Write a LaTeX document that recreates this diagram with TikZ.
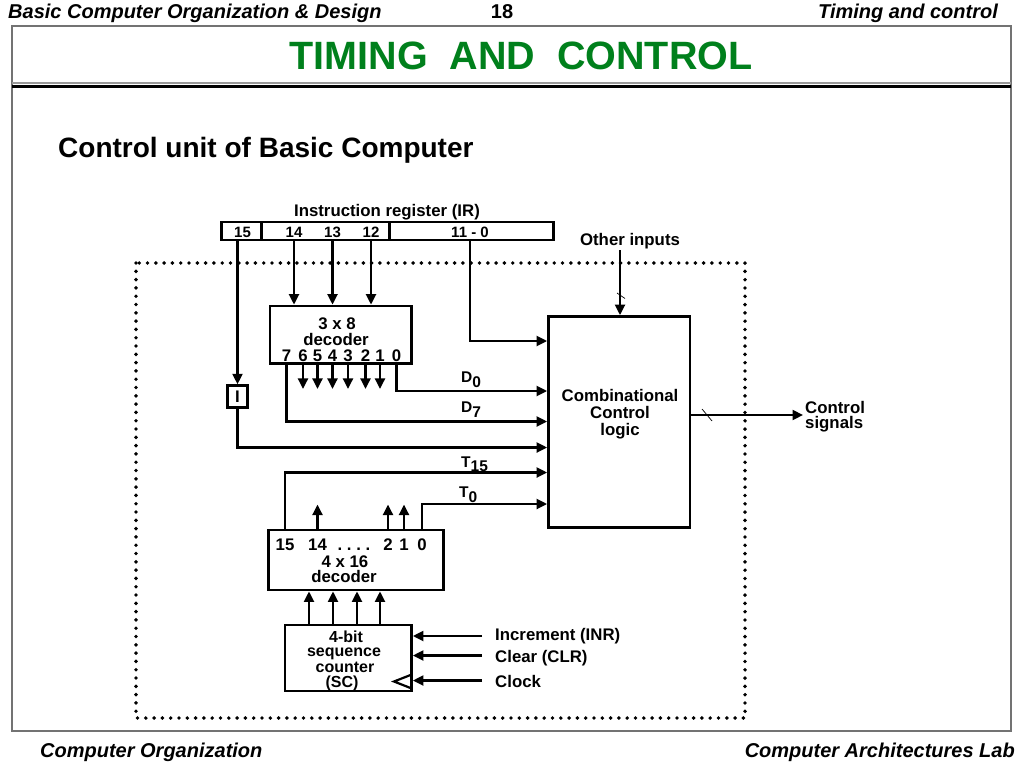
\documentclass[tikz,border=0pt]{standalone}
\usepackage{fontspec}
\setmainfont{Liberation Sans}
\usetikzlibrary{arrows.meta}
\definecolor{titlegreen}{RGB}{0,128,28}
\begin{document}
\begin{tikzpicture}[x=1pt,y=-1pt,
  lbl/.style={font=\fontsize{16.8}{17}\selectfont\bfseries, inner sep=0pt, anchor=base},
  sclbl/.style={font=\fontsize{16}{16}\selectfont\bfseries, inner sep=0pt, anchor=base},
  sml/.style={font=\fontsize{15}{15}\selectfont\bfseries, inner sep=0pt, anchor=base},
  sig/.style={font=\fontsize{15.5}{15}\selectfont\bfseries, inner sep=0pt, anchor=base west},
  hdr/.style={font=\fontsize{20}{22}\selectfont\bfseries\itshape, inner sep=0pt},
  blk/.style={draw, line width=2.8pt, inner sep=0pt},
  wire/.style={line width=2.2pt},
  arr/.style={wire, -{Triangle[length=10.5pt,width=10pt]}},
  slash/.style={line width=0.7pt},
  dotbox/.style={line width=3.9pt, dash pattern=on 0pt off 8.3pt, line cap=round},
]
\useasboundingbox (0,0) rectangle (1024,768);
\fill[white] (0,0) rectangle (1024,768);

% slide frame
\draw[black!55, line width=1.3pt] (12,26) rectangle (1011,731);
\draw[black!40, line width=2pt] (12,83) -- (1011,83);
\draw[line width=3.3pt] (12,86.5) -- (1011,86.5);

% header / footer
\node[hdr, anchor=base west] (hleft) at (8,19) {Basic Computer Organization \& Design};
\node[hdr, anchor=base, font=\fontsize{20}{22}\selectfont\bfseries] (hnum) at (502,19) {18};
\node[hdr, anchor=base east] (hright) at (998,19) {Timing and control};
\node[inner sep=0pt, anchor=base, text=titlegreen, font=\fontsize{39.5}{40}\selectfont\bfseries] (title) at (521,70) {TIMING\ \ AND\ \ CONTROL};
\node[inner sep=0pt, anchor=base west, font=\fontsize{28}{30}\selectfont\bfseries] (sub) at (58,157) {Control unit of Basic Computer};
\node[hdr, anchor=base west] (fleft) at (40,757) {Computer Organization};
\node[hdr, anchor=base east] (fright) at (1015,757) {Computer Architectures Lab};

% dotted enclosure
\draw[dotbox] (136,263) rectangle (745,718);

% instruction register
\node[blk, minimum width=332pt, minimum height=18pt] (ir) at (387.5,231) {};
\draw[line width=2.8pt] (261.5,222) -- (261.5,240);
\draw[line width=2.8pt] (389.5,222) -- (389.5,240);
\node[sml] (b15) at (242.5,237) {15};
\node[sml] (b14) at (294,237) {14};
\node[sml] (b13) at (332.5,237) {13};
\node[sml] (b12) at (371,237) {12};
\node[sml] (b11) at (470,237) {11 - 0};
\node[lbl] (irname) at (387,216) {Instruction register (IR)};

% 3x8 decoder
\node[blk, minimum width=141.5pt, minimum height=57.5pt] (dec3) at (340.75,334.75) {};
\node[lbl] (dec3a) at (337,329) {3 x 8};
\node[lbl] (dec3b) at (336,345) {decoder};
\node[lbl] (d7) at (286.5,361) {7};
\node[lbl] (d6) at (303,361) {6};
\node[lbl] (d5) at (317.5,361) {5};
\node[lbl] (d4) at (332.5,361) {4};
\node[lbl] (d3) at (348,361) {3};
\node[lbl] (d2) at (365.5,361) {2};
\node[lbl] (d1) at (380,361) {1};
\node[lbl] (d0) at (396.5,361) {0};

\draw[arr] (b14 |- ir.south) -- (b14 |- dec3.north);
\draw[arr] (b13 |- ir.south) -- (b13 |- dec3.north);
\draw[arr] (b12 |- ir.south) -- (b12 |- dec3.north);
\foreach \d in {d6,d5,d4,d3,d2,d1}
  \draw[arr] (\d |- dec3.south) -- ++(0,24);

% combinational control logic
\node[blk, minimum width=141.5pt, minimum height=211pt] (comb) at (619.25,422) {};
\node[lbl] (comba) at (620,401) {Combinational};
\node[lbl] (combb) at (620,418) {Control};
\node[lbl] (combc) at (620,435) {logic};

% I flip-flop
\node[blk, line width=2.4pt, minimum width=20pt, minimum height=22pt, font=\fontsize{16.8}{17}\selectfont\bfseries] (ibox) at (237.5,396.5) {I};

\coordinate (yIR) at (0,341);
\coordinate (yD0) at (0,391);
\coordinate (yD7) at (0,421.5);
\coordinate (yI) at (0,447.5);
\coordinate (yT15) at (0,472.5);
\coordinate (yT0) at (0,504);

\draw[arr] (ibox |- ir.south) -- (ibox.north);
\draw[arr] (b11 |- ir.south) |- (comb.west |- yIR);
\draw[arr] (d0 |- dec3.south) |- (comb.west |- yD0);
\draw[arr] (d7 |- dec3.south) |- (comb.west |- yD7);
\draw[arr] (ibox.south) |- (comb.west |- yI);

\node[sig] (lD0) at (461,382) {D\raisebox{-5pt}{0}};
\node[sig] (lD7) at (461,412) {D\raisebox{-5pt}{7}};
\node[sig] (lT15) at (461,467) {T\raisebox{-4.5pt}{15}};
\node[sig] (lT0) at (459,497) {T\raisebox{-5pt}{0}};

% 4x16 decoder
\node[blk, minimum width=175pt, minimum height=60pt] (dec4) at (356,560) {};
\node[lbl] (t15) at (285,550) {15};
\node[lbl] (t14) at (317.5,550) {14};
\node[lbl] (tdots) at (354,550) {.\ .\ .\ .};
\node[lbl] (t2) at (388,550) {2};
\node[lbl] (t1) at (404,550) {1};
\node[lbl] (t0) at (422,550) {0};
\node[lbl] (dec4a) at (345,567) {4 x 16};
\node[lbl] (dec4b) at (344,582) {decoder};

\draw[arr] (t15 |- dec4.north) |- (comb.west |- yT15);
\draw[arr] (t0 |- dec4.north) |- (comb.west |- yT0);
\foreach \t in {t14,t2,t1}
  \draw[arr] (\t |- dec4.north) -- ++(0,-24);

% sequence counter
\node[blk, minimum width=126.5pt, minimum height=66pt] (sc) at (348.25,658) {};
\node[sclbl] (sca) at (346,642) {4-bit};
\node[sclbl] (scb) at (344,656.5) {sequence};
\node[sclbl] (scc) at (345,672) {counter};
\node[sclbl] (scd) at (342,687) {(SC)};
\draw[line width=2.2pt] (410.5,675) -- (394,681.5) -- (410.5,688);

\coordinate (c1) at (309,0);
\coordinate (c2) at (333,0);
\coordinate (c3) at (357,0);
\coordinate (c4) at (380,0);
\foreach \c in {c1,c2,c3,c4}
  \draw[arr] (\c |- sc.north) -- (\c |- dec4.south);

% counter inputs
\node[lbl, anchor=base west] (linr) at (495,640) {Increment (INR)};
\node[lbl, anchor=base west] (lclr) at (495,662) {Clear (CLR)};
\node[lbl, anchor=base west] (lclk) at (495,687) {Clock};
\coordinate (sinr) at (482,636);
\coordinate (sclr) at (482,655.5);
\coordinate (sclk) at (482,680.5);
\draw[arr] (sinr) -- (sc.east |- sinr);
\draw[arr] (sclr) -- (sc.east |- sclr);
\draw[arr] (sclk) -- (sc.east |- sclk);

% other inputs
\node[lbl] (oth) at (630,245) {Other inputs};
\coordinate (othS) at (620,250);
\draw[arr] (othS) -- (othS |- comb.north);
\draw[slash] (617,293) -- (625,298.5);

% control signals
\coordinate (outE) at (803,415);
\draw[arr] (comb.east |- outE) -- (outE);
\draw[slash] (702,409) -- (712,421);
\node[lbl, anchor=base west] (cs1) at (805,413) {Control};
\node[lbl, anchor=base west] (cs2) at (805,428) {signals};
\end{tikzpicture}
\end{document}
